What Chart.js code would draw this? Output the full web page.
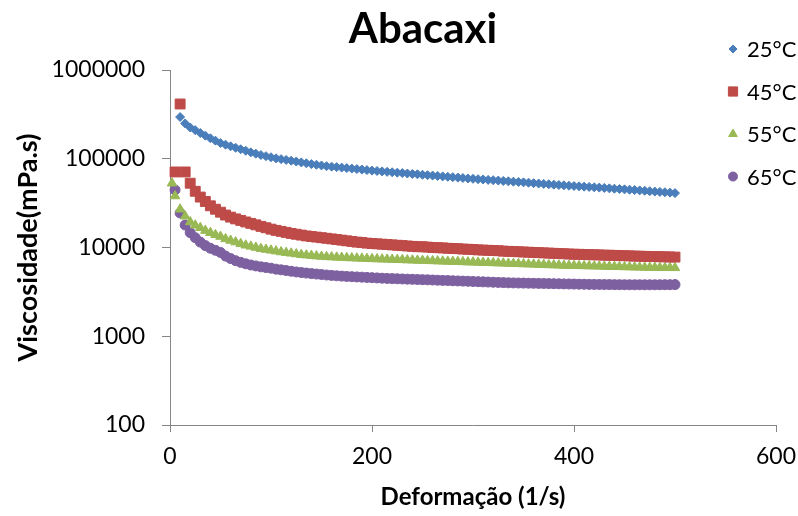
<!DOCTYPE html>
<html>
<head>
<meta charset="utf-8">
<script src="https://cdn.jsdelivr.net/npm/chart.js@4.4.0/dist/chart.umd.min.js"></script>
<style>
  html, body { margin: 0; padding: 0; background: #fff; }
</style>
</head>
<body>
<canvas id="viscChart" width="798" height="516"></canvas>
<script>
// Shear rate (1/s) for every reading
const shearRate = [
  5, 10, 15, 20, 25, 30, 35, 40, 45, 50,
  55, 60, 65, 70, 75, 80, 85, 90, 95, 100,
  105, 110, 115, 120, 125, 130, 135, 140, 145, 150,
  155, 160, 165, 170, 175, 180, 185, 190, 195, 200,
  205, 210, 215, 220, 225, 230, 235, 240, 245, 250,
  255, 260, 265, 270, 275, 280, 285, 290, 295, 300,
  305, 310, 315, 320, 325, 330, 335, 340, 345, 350,
  355, 360, 365, 370, 375, 380, 385, 390, 395, 400,
  405, 410, 415, 420, 425, 430, 435, 440, 445, 450,
  455, 460, 465, 470, 475, 480, 485, 490, 495, 500
];
// the 55°C run has one extra early reading
const shearRate55 = [2].concat(shearRate);

// Viscosity (mPa.s)
const visc25 = [
  null, 295000, 250000, 225000, 210000, 195000, 182000, 170000, 160000, 150000,
  144000, 138000, 133000, 128000, 123000, 118000, 114000, 110000, 107000, 104000,
  101000, 99000, 97000, 95000, 93000, 91000, 89000, 87000, 85500, 84000,
  82500, 81500, 80500, 79500, 78500, 77500, 76500, 75500, 74500, 73500,
  72800, 72000, 71200, 70400, 69700, 69000, 68200, 67500, 66800, 66000,
  65300, 64600, 64000, 63300, 62600, 62000, 61300, 60700, 60000, 59400,
  58900, 58400, 57800, 57300, 56800, 56200, 55700, 55200, 54700, 54200,
  53700, 53100, 52600, 52100, 51600, 51100, 50600, 50200, 49700, 49300,
  48900, 48500, 48100, 47700, 47300, 46900, 46400, 46000, 45600, 45200,
  44800, 44400, 44000, 43600, 43100, 42700, 42300, 41900, 41500, 41000
];
const visc45 = [
  71000, 414000, 71000, 53000, 43000, 37000, 33000, 29500, 27000, 25000,
  23200, 22000, 21000, 20200, 19400, 18700, 18000, 17300, 16700, 16100,
  15600, 15200, 14800, 14400, 14100, 13800, 13500, 13300, 13100, 12900,
  12700, 12500, 12300, 12100, 11900, 11700, 11500, 11400, 11200, 11100,
  11000, 10900, 10800, 10700, 10600, 10500, 10400, 10300, 10200, 10200,
  10100, 10000, 9950, 9900, 9800, 9750, 9700, 9600, 9550, 9500,
  9400, 9350, 9300, 9250, 9200, 9100, 9050, 9000, 8950, 8900,
  8850, 8800, 8750, 8700, 8650, 8600, 8550, 8500, 8450, 8400,
  8380, 8350, 8300, 8280, 8250, 8200, 8180, 8150, 8100, 8080,
  8050, 8000, 7980, 7950, 7920, 7900, 7870, 7850, 7820, 7800
];
const visc55 = [
  53000,
  38000, 27000, 22500, 19400, 17800, 16700, 15500, 14700, 13900, 13300,
  12500, 12000, 11500, 11000, 10600, 10300, 10000, 9700, 9500, 9300,
  9100, 8900, 8750, 8600, 8450, 8300, 8200, 8100, 8000, 7920,
  7850, 7800, 7750, 7700, 7650, 7610, 7570, 7530, 7490, 7450,
  7420, 7390, 7350, 7320, 7290, 7260, 7220, 7190, 7160, 7130,
  7090, 7060, 7030, 7000, 6970, 6940, 6910, 6880, 6850, 6820,
  6790, 6760, 6730, 6700, 6670, 6640, 6610, 6580, 6550, 6520,
  6490, 6460, 6430, 6400, 6370, 6340, 6310, 6280, 6260, 6240,
  6220, 6200, 6180, 6160, 6140, 6120, 6100, 6080, 6060, 6040,
  6020, 6000, 5980, 5960, 5950, 5940, 5930, 5920, 5910, 5900
];
const visc65 = [
  44500, 24500, 17900, 14700, 12900, 11500, 10500, 9800, 9300, 8800,
  8000, 7500, 7100, 6800, 6550, 6350, 6200, 6050, 5950, 5850,
  5700, 5600, 5500, 5400, 5300, 5220, 5150, 5080, 5020, 4960,
  4900, 4850, 4800, 4760, 4720, 4690, 4660, 4630, 4600, 4570,
  4540, 4510, 4480, 4460, 4440, 4420, 4400, 4380, 4360, 4340,
  4320, 4300, 4280, 4260, 4240, 4220, 4200, 4180, 4160, 4140,
  4120, 4100, 4080, 4060, 4040, 4020, 4000, 3990, 3980, 3970,
  3960, 3950, 3940, 3930, 3920, 3910, 3900, 3890, 3880, 3870,
  3860, 3850, 3840, 3835, 3830, 3825, 3820, 3815, 3810, 3805,
  3800, 3800, 3800, 3800, 3800, 3800, 3805, 3810, 3810, 3820
];

const seriesNames = ["25°C", "45°C", "55°C", "65°C"];
const xTicks = [0, 200, 400, 600];
const yTicks = [100, 1000, 10000, 100000, 1000000];

const fontFamily = "Lato, 'Open Sans', sans-serif";
const axisColor = "#868686";

// Pair x and y values, skipping missing readings
function toPoints(xs, ys) {
    return xs.map((x, i) => ({ x: x, y: ys[i] })).filter(p => p.y !== null);
}

function makeSeries(label, xs, ys, color, style, radius) {
    return {
        label: label,
        data: toPoints(xs, ys),
        backgroundColor: color,
        borderColor: color,
        borderWidth: 1,
        pointStyle: style,
        pointRadius: radius,
        pointHoverRadius: radius,
        showLine: false,
        clip: false
    };
}

// Title drawn over the plot
const titlePlugin = {
    id: "chartTitle",
    afterDraw(chart) {
        const ctx = chart.ctx;
        ctx.save();
        ctx.font = "bold 42px " + fontFamily;
        ctx.fillStyle = "#000";
        ctx.textAlign = "center";
        ctx.textBaseline = "alphabetic";
        ctx.fillText("Abacaxi", 423, 43);
        ctx.restore();
    }
};

// Legend in the top right corner, like the original
const legendPlugin = {
    id: "sideLegend",
    afterDraw(chart) {
        const ctx = chart.ctx;
        ctx.save();
        ctx.font = "22px " + fontFamily;
        ctx.textBaseline = "middle";
        ctx.textAlign = "left";
        chart.data.datasets.forEach((ds, i) => {
            const y = 49 + i * 42.5;
            ctx.fillStyle = ds.backgroundColor;
            ctx.strokeStyle = ds.borderColor;
            ctx.lineWidth = 1;
            Chart.helpers.drawPoint(ctx, {
                pointStyle: ds.pointStyle,
                radius: ds.pointRadius - 0.5,
                rotation: 0,
                borderWidth: 1
            }, 733, y);
            ctx.fillStyle = "#000";
            ctx.fillText(ds.label, 747, y + 1);
        });
        ctx.restore();
    }
};

const ctx = document.getElementById("viscChart").getContext("2d");
const viscChart = new Chart(ctx, {
    type: "scatter",
    data: {
        datasets: [
            makeSeries(seriesNames[0], shearRate, visc25, "#4A7EBB", "rectRot", 4.5),
            makeSeries(seriesNames[1], shearRate, visc45, "#BE4B48", "rect", 7),
            makeSeries(seriesNames[2], shearRate55, visc55, "#98B954", "triangle", 5.5),
            makeSeries(seriesNames[3], shearRate, visc65, "#7D60A0", "circle", 5)
        ]
    },
    options: {
        responsive: false,
        animation: false,
        layout: { padding: { top: 70, right: 22, left: 0, bottom: 0 } },
        plugins: {
            legend: { display: false },
            title: { display: false },
            tooltip: { enabled: false }
        },
        scales: {
            x: {
                type: "linear",
                min: 0,
                max: 600,
                afterBuildTicks: scale => { scale.ticks = xTicks.map(v => ({ value: v })); },
                afterFit: scale => {
                    scale.height = 91;
                    // let the layout padding decide the right edge
                    scale.paddingLeft = 0;
                    scale.paddingRight = 0;
                },
                ticks: {
                    color: "#000",
                    font: { family: fontFamily, size: 23 },
                    padding: 11,
                    maxRotation: 0
                },
                grid: { drawOnChartArea: false, tickLength: 7, color: axisColor },
                border: { color: axisColor, width: 1 },
                title: {
                    display: true,
                    text: "Deformação (1/s)",
                    color: "#000",
                    font: { family: fontFamily, size: 24, weight: "bold" },
                    padding: { top: 0, bottom: 4 }
                }
            },
            y: {
                type: "logarithmic",
                min: 100,
                max: 1000000,
                afterBuildTicks: scale => { scale.ticks = yTicks.map(v => ({ value: v })); },
                afterFit: scale => { scale.width = 170; },
                ticks: {
                    color: "#000",
                    font: { family: fontFamily, size: 23 },
                    padding: 17,
                    callback: v => String(v)
                },
                grid: { drawOnChartArea: false, tickLength: 8, color: axisColor },
                border: { color: axisColor, width: 1 },
                title: {
                    display: true,
                    text: "Viscosidade(mPa.s)",
                    color: "#000",
                    font: { family: fontFamily, size: 27, weight: "bold" },
                    padding: { top: 12, bottom: 0 }
                }
            }
        }
    },
    plugins: [titlePlugin, legendPlugin]
});
</script>
</body>
</html>
